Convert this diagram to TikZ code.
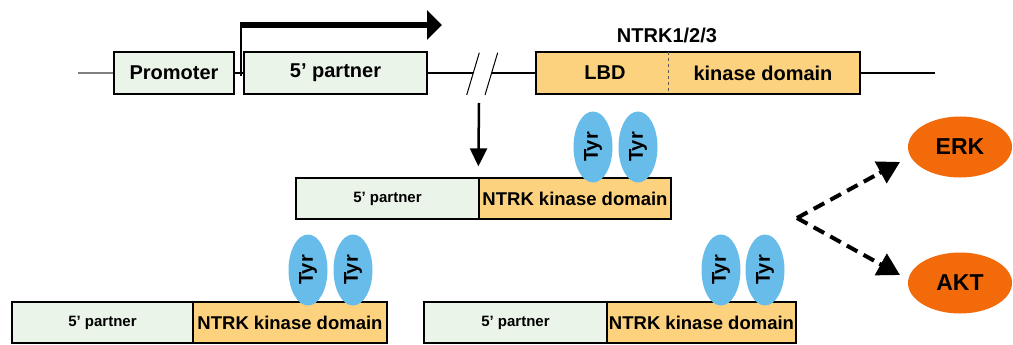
\documentclass[tikz,border=0pt]{standalone}
\usepackage{fontspec}
\setmainfont{Liberation Sans}
\usetikzlibrary{arrows.meta,shapes.geometric,calc}
\definecolor{pgreen}{HTML}{EBF4E8}
\definecolor{porange}{HTML}{FDD27E}
\definecolor{pblue}{HTML}{68BCEA}
\definecolor{dorange}{HTML}{F26A0A}
\tikzset{
  fs/.style={font=\fontsize{#1}{#1}\selectfont\bfseries},
  gbox/.style={draw=black, line width=1.3pt, fill=pgreen, inner sep=0pt, minimum height=#1},
  obox/.style={draw=black, line width=1.3pt, fill=porange, inner sep=0pt, minimum height=#1},
  tyr/.style={ellipse, fill=pblue, draw=none, minimum width=71pt, minimum height=39pt, inner sep=0pt, fs=20, rotate=90},
  sig/.style={ellipse, fill=dorange, draw=none, minimum width=104pt, minimum height=61pt, inner sep=0pt, fs=23},
  dashline/.style={line width=4pt, dash pattern=on 12pt off 7pt},
  headarr/.style={line width=4pt, -{Triangle[length=22pt,width=24pt]}},
  mline/.style={line width=1.3pt}
}
\begin{document}
\begin{tikzpicture}[x=1pt,y=1pt]
\useasboundingbox[fill=white] (0,0) rectangle (1013,-345);
% top gene row
\node[gbox=42pt, minimum width=120pt, fs=20] (prom) at (174,-73) {Promoter};
\node[gbox=42pt, minimum width=183pt, fs=20] (p5) at (335.5,-73) {5' partner};
\node[obox=42pt, minimum width=324pt] (ntrk) at (698,-73) {};
\node[fs=20] (lbd) at (605,-73) {LBD};
\node[fs=20] (kin) at (763,-73) {kinase domain};
\node[fs=20] (ntrklab) at (667,-35) {NTRK1/2/3};
\draw[line width=1pt, dashed, gray!70!black] (668,-52) -- (668,-94);
% main line
\coordinate (l0) at (78,-73);
\coordinate (s1t) at (479.3,-52.7); \coordinate (s1b) at (466.7,-95);
\coordinate (s2t) at (497.7,-52.7); \coordinate (s2b) at (485,-95);
\coordinate (c1) at (473.3,-73); \coordinate (c2) at (491.6,-73);
\coordinate (lend) at (935,-73);
\draw[mline, gray] (l0) -- (prom.west);
\draw[mline] (prom.east) -- (p5.west);
\draw[mline] (p5.east) -- (c1);
\draw[mline] (c2) -- (ntrk.west);
\draw[mline] (ntrk.east) -- (lend);
\draw[line width=1pt] (s1t) -- (s1b);
\draw[line width=1pt] (s2t) -- (s2b);
% transcription start arrow
\coordinate (tss) at (240.5,-76);
\coordinate (tssend) at (442,-25);
\draw[line width=2pt] (tss) -- (240.5,-22);
\draw[line width=6pt, -{Triangle[length=15pt,width=29pt]}] (239.5,-25) -- (tssend);
% middle fusion
\node[gbox=41pt, minimum width=183pt, fs=15] (mL) at (387.5,-198.5) {5' partner};
\node[obox=41pt, minimum width=192pt, fs=18.5] (mR) at (575,-198.5) {NTRK kinase domain};
\coordinate (brk) at (479,-103);
\draw[line width=2.5pt, -{Triangle[length=18pt,width=17pt]}] (brk) -- ([yshift=11pt]mR.north west);
\node[tyr] (t1) at (593,-147) {Tyr};
\node[tyr] (t2) at (638,-147) {Tyr};
% bottom left fusion
\node[gbox=41pt, minimum width=181pt, fs=15] (bLL) at (102.5,-322.5) {5' partner};
\node[obox=41pt, minimum width=194pt, fs=18.5] (bLR) at (290,-322.5) {NTRK kinase domain};
\node[tyr] (t3) at (308,-270) {Tyr};
\node[tyr] (t4) at (353,-270) {Tyr};
% bottom right fusion
\node[gbox=41pt, minimum width=183pt, fs=15] (bRL) at (515.5,-322.5) {5' partner};
\node[obox=41pt, minimum width=189pt, fs=18.5] (bRR) at (701.5,-322.5) {NTRK kinase domain};
\node[tyr] (t5) at (721,-270) {Tyr};
\node[tyr] (t6) at (765,-270) {Tyr};
% signalling
\node[sig] (erk) at (960,-147) {ERK};
\node[sig] (akt) at (960,-283) {AKT};
\coordinate (split) at (797,-218);
\coordinate (erktip) at (900,-162);
\coordinate (akttip) at (900,-275);
\draw[dashline] (split) -- ($(split)!0.8!(erktip)$);
\draw[headarr] ($(split)!0.8!(erktip)$) -- (erktip);
\draw[dashline] (split) -- ($(split)!0.8!(akttip)$);
\draw[headarr] ($(split)!0.8!(akttip)$) -- (akttip);
\end{tikzpicture}
\end{document}
